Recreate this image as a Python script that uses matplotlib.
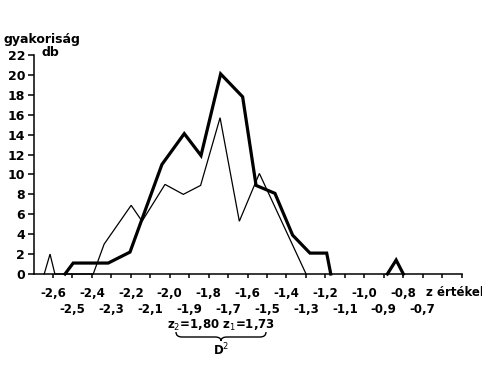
import matplotlib
matplotlib.use("Agg")
import matplotlib.pyplot as plt
import numpy as np
from matplotlib.path import Path
from matplotlib.patches import PathPatch

# ---- data ----
thin_z = [-2.645, -2.615, -2.59, -2.393, -2.337, -2.198, -2.142, -2.024, -1.930,
          -1.841, -1.741, -1.642, -1.539, -1.299]
thin_f = [0, 2.0, 0, 0, 3.0, 6.9, 5.3, 9.0, 8.0, 8.9, 15.7, 5.3, 10.1, 0]

thick_z = [-2.538, -2.496, -2.316, -2.204, -2.040, -1.925, -1.839, -1.738, -1.625,
           -1.556, -1.459, -1.368, -1.279, -1.193, -1.172]
thick_f = [0, 1.1, 1.1, 2.2, 11.0, 14.1, 11.9, 20.1, 17.8, 8.9, 8.1, 3.9, 2.1, 2.1, 0]

spike_z = [-0.881, -0.836, -0.799]
spike_f = [0, 1.4, 0]

row1_ticks = [-2.6, -2.4, -2.2, -2.0, -1.8, -1.6, -1.4, -1.2, -1.0, -0.8, -0.6]
row1_labels = ['-2,6', '-2,4', '-2,2', '-2,0', '-1,8', '-1,6', '-1,4', '-1,2', '-1,0', '-0,8', '']
row2_ticks = [-2.5, -2.3, -2.1, -1.9, -1.7, -1.5, -1.3, -1.1, -0.9, -0.7, -0.5]
row2_labels = ['-2,5', '-2,3', '-2,1', '-1,9', '-1,7', '-1,5', '-1,3', '-1,1', '-0,9', '-0,7', '']
y_ticks = list(range(0, 23, 2))

W, H = 482, 365
plt.rcParams['font.family'] = ['DejaVu Sans']
fig = plt.figure(figsize=(W / 100, H / 100), dpi=100)

def px(x, y):
    return x / W, 1 - y / H

left, right = 33.5, 461.5
bottom, top = 274, 55
ax = fig.add_axes([left / W, 1 - bottom / H, (right - left) / W, (bottom - top) / H])
ax.set_xlim(-2.7, -0.5)
ax.set_ylim(0, 22)

ax.plot(thin_z, thin_f, color='black', lw=0.9, solid_joinstyle='miter', clip_on=False)
ax.plot(thick_z, thick_f, color='black', lw=2.3, solid_joinstyle='miter', clip_on=False)
ax.plot(spike_z, spike_f, color='black', lw=2.3, solid_joinstyle='miter', clip_on=False)

for s in ['top', 'right']:
    ax.spines[s].set_visible(False)
for s in ['left', 'bottom']:
    ax.spines[s].set_linewidth(1.1)

fs = 8.5
ax.set_yticks(y_ticks)
ax.set_yticklabels([str(v) for v in y_ticks], fontsize=9, fontweight='bold')
ax.tick_params(axis='y', direction='out', length=4, width=1.1, pad=2)

ax.set_xticks(row1_ticks)
ax.set_xticklabels(row1_labels, fontsize=fs, fontweight='bold')
ax.set_xticks(row2_ticks, minor=True)
ax.set_xticklabels(row2_labels, minor=True, fontsize=fs, fontweight='bold')
ax.tick_params(axis='x', which='major', direction='out', length=3, width=1.1, pad=6.5)
ax.tick_params(axis='x', which='minor', direction='out', length=3, width=1.1, pad=18)

fig.text(*px(4, 40), 'gyakoriság', fontsize=9, fontweight='bold', va='center', ha='left')
fig.text(*px(42, 53), 'db', fontsize=9, fontweight='bold', va='center', ha='left')
fig.text(*px(426, 293), 'z értékek', fontsize=fs, fontweight='bold', va='center', ha='left')

fig.text(*px(221, 325), 'z$_2$=1,80 z$_1$=1,73', fontsize=fs, fontweight='bold',
         va='center', ha='center')
fig.text(*px(221, 350), 'D$^2$', fontsize=fs, fontweight='bold', va='center', ha='center')

# curly brace
pts = [(176, 332), (176, 337), (182, 337), (215, 337), (221, 337), (221, 341),
       (221, 337), (227, 337), (260, 337), (266, 337), (266, 332)]
codes = [Path.MOVETO, Path.CURVE3, Path.CURVE3, Path.LINETO, Path.CURVE3, Path.CURVE3,
         Path.CURVE3, Path.CURVE3, Path.LINETO, Path.CURVE3, Path.CURVE3]
path = Path([px(x, y) for x, y in pts], codes)
fig.add_artist(PathPatch(path, transform=fig.transFigure, fill=False, lw=1.0, color='black'))

fig.savefig('out.png', dpi=100)
